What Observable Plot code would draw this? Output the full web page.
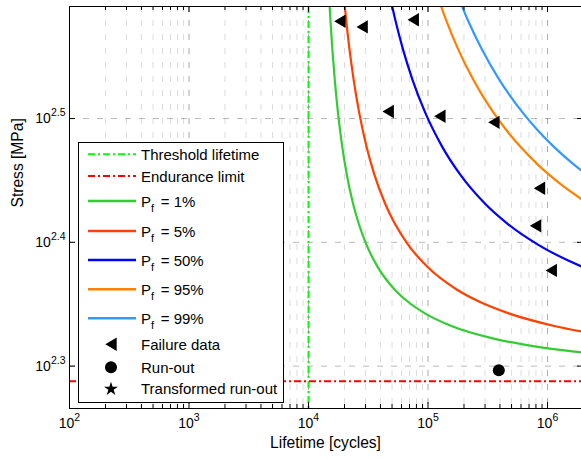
<!DOCTYPE html>
<html>
<head>
<meta charset="utf-8">
<script src="https://cdn.jsdelivr.net/npm/d3@7"></script>
<script src="https://cdn.jsdelivr.net/npm/@observablehq/plot@0.6"></script>
<style>
html, body { margin: 0; padding: 0; background: #fff; overflow: hidden; }
</style>
</head>
<body>
<div id="chart"></div>
<script>
// ---------- data ----------
const thresholdLife = 1e4;
const enduranceStress = 194;

const failureLife   = [18300, 28100, 75200, 46400, 125600, 355700, 857000, 794000, 1074000];
const failureStress = [379, 375, 380, 320.4, 317.6, 314, 277.8, 259, 238.4];

const runoutLife   = [391000];
const runoutStress = [198];

// P-S-N curves: [lifetime, stress]
const pf01 = [[14800,400],[15250,380],[15820,360],[16580,340],[17620,320],[19160,300],[20900,285],[23570,270],[26330,260],[30580,250],[37870,240],[52810,230],[67540,225],[95000,220],[157000,215],[354700,210],[780800,207],[1676000,205],[5040000,203]];
const pf05 = [[19620,400],[20650,380],[22000,360],[23850,340],[26490,320],[30600,300],[35510,285],[43700,270],[52830,260],[68300,250],[98740,240],[174900,230],[267200,225],[480000,220],[1138000,215],[4630000,210]];
const pf50 = [[47240,400],[53190,380],[61550,360],[74060,340],[94380,320],[131600,300],[185500,285],[299000,270],[463300,260],[837800,250],[1957000,240],[3490000,235]];
const pf95 = [[117200,400],[141400,380],[178200,360],[238900,340],[285600,330],[351000,320],[446500,310],[593800,300],[838200,290],[1024000,285],[1280000,280],[2180000,270]];
const pf99 = [[172800,400],[214700,380],[280700,360],[394100,340],[484600,330],[615000,320],[812800,310],[1131000,300],[1685000,290],[2125000,285],[3680000,275]];

const xMajorExp = [2, 3, 4, 5, 6];
const yMajorExp = [2.3, 2.4, 2.5];
const xMinorMult = [2, 3, 4, 5, 6, 7, 8, 9];

const legendLabels = ["Threshold lifetime", "Endurance limit", "1%", "5%", "50%", "95%", "99%", "Failure data", "Run-out", "Transformed run-out"];

// ---------- setup ----------
const FONT = '"Liberation Sans", Arial, Helvetica, sans-serif';
const xDomain = [100, 2e6];
const yDomain = [184.4, 389.5];
const xMajor = xMajorExp.map(e => 10 ** e);
const yMajor = yMajorExp.map(e => 10 ** e);
const xMinor = xMajorExp.slice(0, -1).flatMap(e => xMinorMult.map(m => m * 10 ** e));

const failures = failureLife.map((x, i) => ({x, y: failureStress[i]}));
const runouts = runoutLife.map((x, i) => ({x, y: runoutStress[i]}));

const triLeft = {
  draw(ctx, size) {
    const r = Math.sqrt(size / Math.PI);
    ctx.moveTo(-0.85 * r, 0);
    ctx.lineTo(0.85 * r, -r);
    ctx.lineTo(0.85 * r, r);
    ctx.closePath();
  }
};

const curves = [
  {data: pf01, color: "#33cc33"},
  {data: pf05, color: "#ff4000"},
  {data: pf50, color: "#0000ff"},
  {data: pf95, color: "#ff8000"},
  {data: pf99, color: "#3399ff"}
];

const W = 581, H = 459, mL = 69, mT = 6, mB = 51;
const fw = W - mL, fh = H - mT - mB;
const dashDot = "7,3,2,3";

const svg = Plot.plot({
  width: W, height: H,
  marginLeft: mL, marginRight: 0, marginTop: mT, marginBottom: mB,
  style: {fontFamily: FONT, fontSize: "14px", overflow: "hidden", background: "white", color: "black"},
  x: {type: "log", domain: xDomain, range: [mL, 583], axis: null},
  y: {type: "log", domain: yDomain, axis: null},
  marks: [
    // grid
    Plot.ruleX([...xMinor, ...xMajor], {stroke: "#000", strokeOpacity: 0.14, strokeDasharray: "6,8"}),
    Plot.ruleX(xMajor, {stroke: "#000", strokeOpacity: 0.22, strokeDasharray: "6,8"}),
    Plot.ruleY(yMajor, {stroke: "#000", strokeOpacity: 0.28, strokeDasharray: "6,8"}),
    // threshold & endurance
    Plot.ruleX([thresholdLife], {stroke: "#00ff00", strokeWidth: 2, strokeDasharray: dashDot}),
    Plot.ruleY([enduranceStress], {stroke: "#ff0000", strokeWidth: 2, strokeDasharray: dashDot}),
    // curves
    ...curves.map(c => Plot.line(c.data, {x: d => d[0], y: d => d[1], stroke: c.color, strokeWidth: 2.2, curve: "monotone-x", clip: true})),
    // data
    Plot.dot(failures, {x: "x", y: "y", symbol: triLeft, r: 6.7, fill: "black", stroke: "none"}),
    Plot.dot(runouts, {x: "x", y: "y", r: 6, fill: "black", stroke: "none"}),
    // inward ticks
    Plot.ruleX(xMajor, {stroke: "black", insetTop: fh - 6}),
    Plot.ruleX(xMinor, {stroke: "black", insetTop: fh - 4}),
    Plot.ruleX(xMajor, {stroke: "black", insetBottom: fh - 6}),
    Plot.ruleX(xMinor, {stroke: "black", insetBottom: fh - 4}),
    Plot.ruleY(yMajor, {stroke: "black", insetRight: fw - 6}),
    Plot.ruleY(yMajor, {stroke: "black", insetLeft: fw - 4}),
    // frame (left, bottom, top)
    Plot.ruleX([xDomain[0]], {stroke: "black"}),
    Plot.ruleY(yDomain, {stroke: "black"}),
    // tick labels
    Plot.text(xMajorExp, {x: e => 10 ** e, frameAnchor: "bottom", dy: 19, text: e => "10^" + e, fontSize: 14}),
    Plot.text(yMajorExp, {y: e => 10 ** e, frameAnchor: "left", dx: -4, textAnchor: "end", text: e => "10^" + e, fontSize: 14}),
    // axis labels
    Plot.text(["Lifetime [cycles]"], {frameAnchor: "bottom", dy: 39, text: d => d, fontSize: 15.6}),
    Plot.text(["Stress [MPa]"], {frameAnchor: "left", dx: -52, rotate: -90, text: d => d, fontSize: 15.6})
  ]
});

// superscripts in tick labels
d3.select(svg).selectAll("text").each(function() {
  const m = /^10\^(.+)$/.exec(this.textContent);
  if (!m) return;
  const t = d3.select(this);
  t.text(null);
  t.append("tspan").text("10");
  t.append("tspan").attr("dy", "-7").attr("font-size", "10.5px").text(m[1]);
});

// legend
const g = d3.select(svg).append("g").attr("font-family", FONT).attr("font-size", "15px").attr("text-anchor", "start");
g.append("rect").attr("x", 78.5).attr("y", 142.5).attr("width", 205).attr("height", 260)
  .attr("fill", "white").attr("stroke", "black");
const rowY = [154.3, 176, 201, 231, 260, 289.3, 318.3, 344.3, 367.3, 388.3];
const lineColors = ["#00ff00", "#ff0000", ...curves.map(c => c.color)];
legendLabels.forEach((lab, i) => {
  const y = rowY[i];
  if (i < 7) {
    g.append("line").attr("x1", 88).attr("x2", 136).attr("y1", y).attr("y2", y)
      .attr("stroke", lineColors[i]).attr("stroke-width", i < 2 ? 2 : 2.4)
      .attr("stroke-dasharray", i < 2 ? dashDot : null);
  }
  const t = g.append("text").attr("x", 141).attr("y", y + 5.5).attr("fill", "black").attr("text-anchor", "start");
  if (i >= 2 && i < 7) {
    t.append("tspan").text("P");
    t.append("tspan").attr("dy", 5).attr("font-size", "11px").text("f");
    t.append("tspan").attr("dy", -5).attr("dx", 2.5).text(" = " + lab);
  } else {
    t.text(lab);
  }
});
g.append("path").attr("transform", `translate(111,${rowY[7]})`).attr("d", d3.symbol(triLeft, Math.PI * 6.7 * 6.7)()).attr("fill", "black");
g.append("path").attr("transform", `translate(111,${rowY[8]})`).attr("d", d3.symbol(d3.symbolCircle, Math.PI * 36)()).attr("fill", "black");
g.append("path").attr("transform", `translate(111,${rowY[9] + 0.7})`).attr("d", d3.symbol(d3.symbolStar, 60)()).attr("fill", "black");

document.getElementById("chart").appendChild(svg);
</script>
</body>
</html>
